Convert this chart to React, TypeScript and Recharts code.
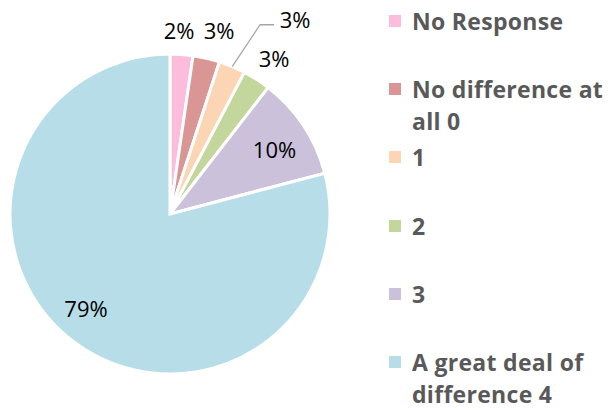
import React from "react";
import { PieChart, Pie, Cell, Legend } from "recharts";

document.body.style.margin = "0";

const categories = [
  "No Response",
  "No difference at all 0",
  "1",
  "2",
  "3",
  "A great deal of difference 4",
];
const shares = [2.3, 2.7, 2.7, 2.8, 10.4, 79.1];
const colors = ["#fcbcdb", "#d99694", "#fcd5b4", "#c3d69b", "#ccc1da", "#b7dee8"];

// label placement (Excel "best fit"): distance as fraction of radius, angular nudge
const labelRadius = [1.15, 1.19, 1.44, 1.17, 0.77, 0.79];
const labelNudge = [1.3, -1.8, 0, -1, -1.5, -4];

const data = categories.map((name, i) => ({ name, value: shares[i] }));

const RAD = Math.PI / 180;
const polar = (cx: number, cy: number, r: number, a: number) => ({
  x: cx + r * Math.cos(-a * RAD),
  y: cy + r * Math.sin(-a * RAD),
});

const labelStyle = {
  fontFamily: "'Open Sans', sans-serif",
  fontSize: 22,
  fill: "#000",
};

const renderLabel = (props: any) => {
  const { cx, cy, midAngle, outerRadius, percent, index } = props;
  const text = `${Math.round(percent * 100)}%`;
  if (index === 2) {
    // pulled-out label with a leader line
    const e = polar(cx, cy, outerRadius, midAngle);
    const k = polar(cx, cy, outerRadius * 1.31, midAngle - 2.6);
    return (
      <g>
        <polyline
          points={`${e.x},${e.y} ${k.x},${k.y} ${k.x + 14},${k.y}`}
          fill="none"
          stroke="#a6a6a6"
          strokeWidth={1.3}
        />
        <text x={k.x + 35} y={k.y - 6} textAnchor="middle" dominantBaseline="central" style={labelStyle}>
          {text}
        </text>
      </g>
    );
  }
  const p = polar(cx, cy, outerRadius * labelRadius[index], midAngle + labelNudge[index]);
  return (
    <text x={p.x} y={p.y} textAnchor="middle" dominantBaseline="central" style={labelStyle}>
      {text}
    </text>
  );
};

const LegendContent = () => (
  <div style={{ position: "relative", width: 225, height: 410 }}>
    {categories.map((name, i) => (
      <div
        key={name}
        style={{
          position: "absolute",
          left: 0,
          top: 21 + 68.2 * i - 16,
          display: "flex",
          alignItems: "flex-start",
        }}
      >
        <div
          style={{
            width: 12,
            height: 12,
            background: colors[i],
            marginTop: 10,
            marginRight: 11,
          }}
        />
        <div
          style={{
            width: 200,
            lineHeight: "32px",
            fontFamily: "'Open Sans', sans-serif",
            fontWeight: 700,
            fontSize: 23,
            letterSpacing: 0.3,
            color: "#595959",
          }}
        >
          {name}
        </div>
      </div>
    ))}
  </div>
);

export default function App() {
  return (
    <PieChart width={614} height={410} margin={{ top: 0, right: 0, bottom: 0, left: 0 }}>
      <Pie
        data={data}
        dataKey="value"
        nameKey="name"
        cx={170}
        cy={214}
        outerRadius={160}
        startAngle={90}
        endAngle={-270}
        stroke="#fff"
        strokeWidth={3}
        label={renderLabel}
        labelLine={false}
        isAnimationActive={false}
      >
        {data.map((d, i) => (
          <Cell key={d.name} fill={colors[i]} />
        ))}
      </Pie>
      <Legend
        layout="vertical"
        verticalAlign="top"
        align="right"
        wrapperStyle={{ left: 389, top: 0, width: 225 }}
        content={() => <LegendContent />}
      />
    </PieChart>
  );
}
